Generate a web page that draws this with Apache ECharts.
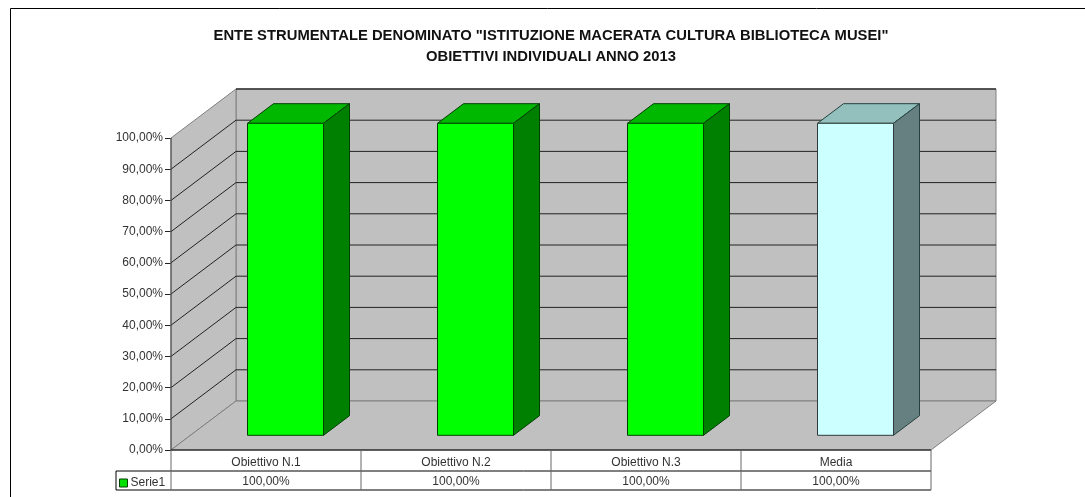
<!DOCTYPE html>
<html lang="it">
<head>
    <meta charset="UTF-8">
    <title>Obiettivi individuali 2013</title>
    <script src="https://cdn.jsdelivr.net/npm/echarts@6/dist/echarts.min.js"></script>
    <style>
        html, body, #main { margin: 0; padding: 0; width: 100%; height: 100%; background: #fff; }
    </style>
</head>
<body>
    <div id="main"></div>
    <script type="text/javascript">
        const categories = ['Obiettivo N.1', 'Obiettivo N.2', 'Obiettivo N.3', 'Media'];
        const values = [100, 100, 100, 100];
        const tableLabels = ['100,00%', '100,00%', '100,00%', '100,00%'];
        const barColors = [
            ['#00ff00', '#00b800', '#008000'],
            ['#00ff00', '#00b800', '#008000'],
            ['#00ff00', '#00b800', '#008000'],
            ['#ccffff', '#93c0bc', '#667f80']
        ];

        // oblique projection of the 3d box (px)
        const depthX = 65, depthY = -49;
        const rowH = 21, lastRowH = 19;
        const fontName = '"Liberation Sans", Arial, sans-serif';
        const pct = v => v.toFixed(2).replace('.', ',') + '%';

        function poly(points, fill, stroke, width) {
            return { type: 'polygon', shape: { points }, style: { fill, stroke: stroke || '#000', lineWidth: width || 1 } };
        }
        function seg(x1, y1, x2, y2, stroke, width) {
            return { type: 'line', shape: { x1, y1, x2, y2 }, style: { stroke: stroke || '#000', lineWidth: width || 1 } };
        }

        // walls, floor, gridlines and the table rules, all from the axes
        function renderBox(params, api) {
            const left = api.coord([0, 0])[0] - api.size([1, 0])[0] / 2;
            const right = left + api.size([1, 0])[0] * categories.length;
            const y0 = api.coord([0, 0])[1];
            const y100 = api.coord([0, 100])[1];
            const wall = '#c0c0c0', edge = '#808080';
            const out = [
                poly([[left + depthX, y100 + depthY], [right + depthX, y100 + depthY], [right + depthX, y0 + depthY], [left + depthX, y0 + depthY]], wall, edge),
                poly([[left, y100], [left + depthX, y100 + depthY], [left + depthX, y0 + depthY], [left, y0]], wall, edge),
                poly([[left, y0], [left + depthX, y0 + depthY], [right + depthX, y0 + depthY], [right, y0]], wall, edge)
            ];
            for (let v = 10; v < 100; v += 10) {
                const y = api.coord([0, v])[1];
                out.push(seg(left, y, left + depthX, y + depthY, '#222'));
                out.push(seg(left + depthX, y + depthY, right + depthX, y + depthY, '#222'));
            }
            out.push(seg(left + depthX, y100 + depthY, right + depthX, y100 + depthY, '#333', 1.5));
            out.push(seg(left, y100, left, y0, '#444'));
            // table
            const t1 = y0 + rowH, t2 = t1 + lastRowH;
            out.push(seg(left, y0, right, y0, '#000'));
            out.push(seg(left - 55, t1, right, t1, '#000'));
            out.push(seg(left - 55, t2, right, t2, '#000'));
            out.push(seg(left - 55, t1, left - 55, t2, '#000'));
            for (let i = 0; i <= categories.length; i++) {
                const x = left + api.size([1, 0])[0] * i;
                out.push(seg(x, y0, x, t2, '#666'));
            }
            return { type: 'group', silent: true, children: out };
        }

        function renderBar(params, api) {
            const i = api.value(0);
            const slot = api.size([1, 0])[0];
            const c = barColors[i];
            const center = api.coord([i, 0])[0];
            const w = slot * 0.4;
            // the bar stands 30% of the way into the floor
            const ox = depthX * 0.3, oy = depthY * 0.3;
            const dx = depthX * 0.4, dy = depthY * 0.4;
            const x0 = center - w / 2 + ox, x1 = x0 + w;
            const yb = api.coord([i, 0])[1] + oy;
            const yt = api.coord([i, api.value(1)])[1] + oy;
            const line = i === 3 ? '#24413f' : '#004000';
            return {
                type: 'group',
                children: [
                    poly([[x0, yt], [x1, yt], [x1 + dx, yt + dy], [x0 + dx, yt + dy]], c[1], line),
                    poly([[x1, yt], [x1 + dx, yt + dy], [x1 + dx, yb + dy], [x1, yb]], c[2], line),
                    poly([[x0, yt], [x1, yt], [x1, yb], [x0, yb]], c[0], i === 3 ? '#303a3a' : '#004000')
                ]
            };
        }

        const chart = echarts.init(document.getElementById('main'));
        chart.setOption({
            animation: false,
            backgroundColor: '#fff',
            title: {
                text: 'ENTE STRUMENTALE DENOMINATO "ISTITUZIONE MACERATA CULTURA BIBLIOTECA MUSEI"\nOBIETTIVI INDIVIDUALI ANNO 2013',
                left: 546, top: 20, textAlign: 'center',
                textStyle: { fontFamily: fontName, fontSize: 14.8, fontWeight: 'bold', color: '#111', lineHeight: 21 }
            },
            legend: {
                data: ['Serie1'], left: 119, top: 477, padding: 0, itemGap: 2,
                itemWidth: 8, itemHeight: 8, icon: 'rect',
                itemStyle: { color: '#00e000', borderColor: '#004000', borderWidth: 1 },
                textStyle: { fontFamily: fontName, fontSize: 12, color: '#333', padding: [0, 0, 0, -2] }
            },
            grid: { left: 171, right: 154, top: 138, bottom: 47 },
            xAxis: [
                {
                    type: 'category', data: categories, position: 'bottom',
                    axisLine: { show: false }, axisTick: { show: false },
                    axisLabel: { margin: 7, fontFamily: fontName, fontSize: 12, color: '#333' }
                },
                {
                    type: 'category', data: tableLabels, position: 'bottom', offset: 21,
                    axisLine: { show: false }, axisTick: { show: false },
                    axisLabel: { margin: 5, fontFamily: fontName, fontSize: 12, color: '#333' }
                }
            ],
            yAxis: {
                type: 'value', min: 0, max: 100, interval: 10,
                axisLine: { show: false }, splitLine: { show: false },
                axisTick: { show: true, length: 6, lineStyle: { color: '#222' } },
                axisLabel: { margin: 8, formatter: pct, fontFamily: fontName, fontSize: 12, color: '#333' }
            },
            graphic: [{
                type: 'polyline', silent: true, z: -10,
                shape: { points: [[10.5, 497], [10.5, 8.5], [1085, 8.5]] },
                style: { stroke: '#000', lineWidth: 1, fill: null }
            }],
            series: [
                { type: 'custom', name: 'box', silent: true, z: 1, data: [[0]], renderItem: renderBox, encode: { x: 0 } },
                {
                    type: 'custom', name: 'Serie1', z: 2, itemStyle: { color: '#00e000' },
                    data: values.map((v, i) => [i, v]), renderItem: renderBar, encode: { x: 0, y: 1 }
                }
            ]
        });
        window.onresize = function () { chart.resize(); };
    </script>
</body>
</html>
